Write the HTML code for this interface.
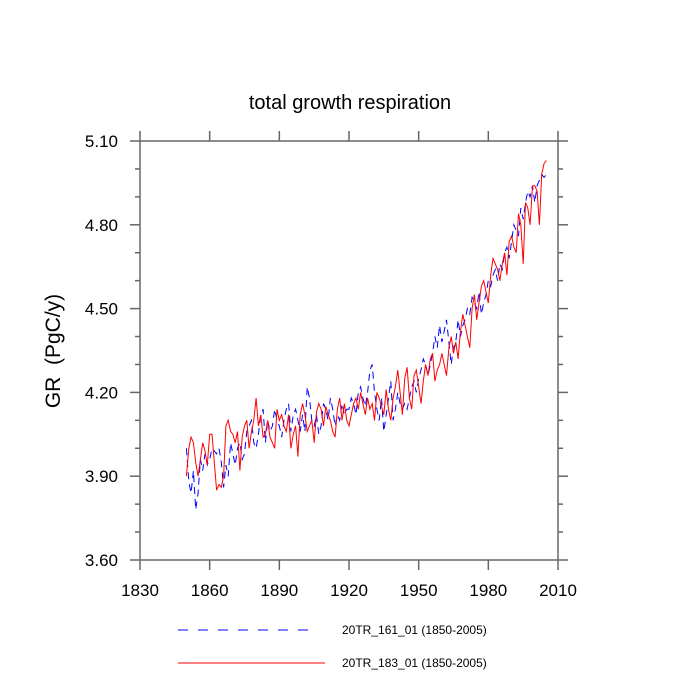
<!DOCTYPE html>
<html><head><meta charset="utf-8"><style>body{margin:0;background:#fff}svg{display:block;font-family:"Liberation Sans",sans-serif}</style></head>
<body>
<svg id="c" width="700" height="700">
<text x="350" y="109" text-anchor="middle" font-size="20">total growth respiration</text>
<text transform="translate(60,351) rotate(-90)" text-anchor="middle" font-size="21" xml:space="preserve" style="white-space:pre">GR  (PgC/y)</text>
<g id="axes"></g>
<g id="series"></g>
<g>
<line x1="178" y1="630" x2="318" y2="630" stroke="#00f" stroke-width="1" stroke-dasharray="10,10"/>
<text x="342" y="634" font-size="12">20TR_161_01 (1850-2005)</text>
<line x1="178" y1="663" x2="325" y2="663" stroke="#f00" stroke-width="1"/>
<text x="342" y="667" font-size="12">20TR_183_01 (1850-2005)</text>
</g>
</svg>
<script>
const startYear=1850;
const xTicks=[1830,1860,1890,1920,1950,1980,2010];
const yTicks=[3.60,3.90,4.20,4.50,4.80,5.10];
const red=[3.90,4.00,4.04,4.02,3.95,3.90,3.96,4.02,3.99,3.94,
4.05,4.05,3.95,3.85,3.87,3.86,3.90,4.08,4.10,4.06,
4.05,4.02,4.06,3.92,4.04,4.08,4.10,4.00,4.06,4.10,
4.18,4.08,4.12,4.04,4.05,4.10,4.04,4.02,4.00,4.14,
4.10,4.12,4.08,4.06,4.12,4.00,4.05,4.08,3.97,4.12,
4.16,4.12,4.06,4.08,4.10,4.02,4.13,4.16,4.14,4.08,
4.15,4.12,4.10,4.06,4.04,4.14,4.18,4.10,4.16,4.10,
4.08,4.12,4.16,4.18,4.14,4.20,4.16,4.12,4.18,4.14,
4.16,4.10,4.20,4.18,4.15,4.12,4.21,4.14,4.10,4.18,
4.22,4.28,4.20,4.12,4.25,4.29,4.18,4.14,4.26,4.28,
4.22,4.16,4.24,4.30,4.26,4.32,4.34,4.24,4.28,4.30,
4.34,4.30,4.26,4.36,4.40,4.34,4.38,4.32,4.42,4.48,
4.44,4.40,4.36,4.50,4.55,4.46,4.52,4.58,4.60,4.56,
4.52,4.62,4.68,4.66,4.64,4.60,4.66,4.70,4.62,4.74,
4.76,4.72,4.70,4.84,4.80,4.66,4.88,4.86,4.80,4.94,
4.94,4.92,4.80,4.98,5.02,5.03];
const blue=[4.00,3.88,3.84,3.92,3.78,3.84,3.96,3.92,3.98,3.94,
3.96,4.00,3.99,3.98,4.00,3.95,3.86,3.94,3.90,4.02,
3.98,3.94,4.00,4.02,3.96,3.98,4.06,4.08,4.10,4.02,
4.00,4.05,4.12,4.14,4.02,4.10,4.06,4.08,4.14,4.10,
4.08,4.04,4.10,4.14,4.16,4.06,4.12,4.14,4.10,4.06,
4.12,4.06,4.22,4.18,4.10,4.08,4.12,4.05,4.08,4.16,
4.14,4.10,4.18,4.14,4.08,4.12,4.10,4.16,4.12,4.14,
4.14,4.18,4.16,4.12,4.20,4.22,4.18,4.15,4.20,4.28,
4.30,4.20,4.14,4.10,4.18,4.06,4.12,4.18,4.24,4.10,
4.14,4.20,4.16,4.14,4.16,4.14,4.18,4.22,4.24,4.20,
4.25,4.28,4.32,4.30,4.26,4.30,4.34,4.40,4.36,4.44,
4.38,4.42,4.46,4.38,4.30,4.36,4.38,4.46,4.40,4.44,
4.46,4.50,4.48,4.54,4.52,4.50,4.56,4.48,4.52,4.55,
4.60,4.58,4.62,4.64,4.60,4.66,4.64,4.70,4.72,4.68,
4.74,4.80,4.78,4.76,4.86,4.82,4.88,4.92,4.90,4.94,
4.88,4.94,4.96,4.98,4.97,4.98];
const L=140,R=558,T=141,B=560;
const xs=v=>L+(v-1830)/(2010-1830)*(R-L);
const ys=v=>B-(v-3.6)/(5.1-3.6)*(B-T);
const NS="http://www.w3.org/2000/svg";
const AX='#666';
function mk(t,a,p){const e=document.createElementNS(NS,t);for(const k in a)e.setAttribute(k,a[k]);p.appendChild(e);return e;}
const ax=document.getElementById('axes');
const fr=mk('rect',{x:L,y:T,width:R-L,height:B-T,fill:'none',stroke:AX,'stroke-width':1.5},ax);


xTicks.forEach(v=>{const x=xs(v);
mk('line',{x1:x,y1:B,x2:x,y2:B+10,stroke:AX,'stroke-width':1.5},ax);mk('line',{x1:x,y1:T,x2:x,y2:T-10,stroke:AX,'stroke-width':1.5},ax);});
for(let i=0;i<=15;i++){const v=3.6+i*0.1;const y=ys(v);const h=i%3===0?10:5;
mk('line',{x1:L,y1:y,x2:L-h,y2:y,stroke:AX,'stroke-width':1.5},ax);mk('line',{x1:R,y1:y,x2:R+h,y2:y,stroke:AX,'stroke-width':1.5},ax);}
xTicks.forEach(v=>{const t=mk('text',{x:xs(v),y:B+36,'text-anchor':'middle','font-size':17},ax);t.textContent=v;

});
yTicks.forEach(v=>{const t=mk('text',{x:L-22,y:ys(v)+6,'text-anchor':'end','font-size':17},ax);t.textContent=v.toFixed(2);

});
const sg=document.getElementById('series');
function line(arr,col,dash,name){const pts=arr.map((v,i)=>xs(startYear+i).toFixed(1)+','+ys(v).toFixed(1)).join(' ');
const p=mk('polyline',{points:pts,fill:'none',stroke:col,'stroke-width':1},sg);if(dash)p.setAttribute('stroke-dasharray',dash);

}
line(blue,'#00f','7,5','series-20tr-161');
line(red,'#f00',null,'series-20tr-183');
</script>
</body></html>
